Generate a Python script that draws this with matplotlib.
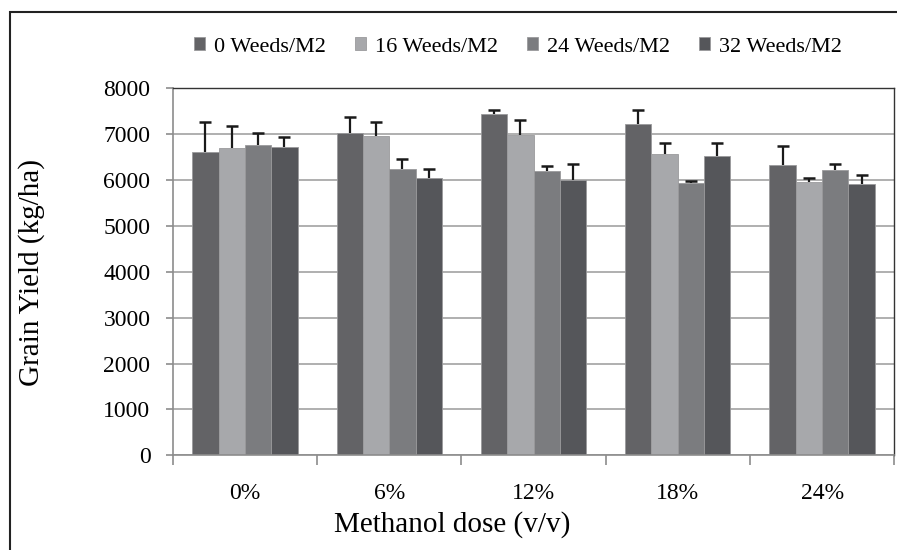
import numpy as np
import matplotlib
matplotlib.use("Agg")
import matplotlib.pyplot as plt
from matplotlib.patches import Rectangle

doses = ["0%", "6%", "12%", "18%", "24%"]
series = ["0 Weeds/M2", "16 Weeds/M2", "24 Weeds/M2", "32 Weeds/M2"]

weeds_0 = [6610, 7030, 7450, 7225, 6320]
weeds_16 = [6690, 6960, 6980, 6565, 5960]
weeds_24 = [6760, 6245, 6200, 5925, 6215]
weeds_32 = [6710, 6035, 6000, 6515, 5905]

err_0 = [650, 350, 70, 300, 425]
err_16 = [490, 300, 330, 235, 95]
err_24 = [255, 205, 100, 55, 135]
err_32 = [225, 195, 355, 285, 195]

colors = ["#636366", "#a7a8ab", "#7b7c7f", "#55565a"]

plt.rcParams["font.family"] = ["Liberation Serif", "DejaVu Serif"]

fig = plt.figure(figsize=(8.97, 5.5), dpi=100)
ax = fig.add_axes([172.7 / 897, 1 - 455.3 / 550, 721.6 / 897, 367 / 550])

x = np.arange(len(doses))
group_w = 0.73
bw = group_w / len(series)
values = [weeds_0, weeds_16, weeds_24, weeds_32]
errors = [err_0, err_16, err_24, err_32]

for i, (vals, errs) in enumerate(zip(values, errors)):
    pos = x - group_w / 2 + bw * (i + 0.5)
    ax.bar(pos, vals, width=bw, color=colors[i], edgecolor="#9a9a9c",
           linewidth=0.6, label=series[i], zorder=2)
    eb = ax.errorbar(pos, vals, yerr=[np.zeros(len(errs)), errs], fmt="none",
                     ecolor="#1a1a1a", elinewidth=1.6, capsize=4.3,
                     capthick=1.8, zorder=3)
    # upper bars only: hide the cap sitting on the bar top
    eb[1][0].set_visible(False)

ax.set_ylim(0, 8000)
ax.set_xlim(-0.5, len(doses) - 0.5)
ax.set_yticks(np.arange(0, 8001, 1000))
ax.yaxis.grid(True, color="#9a9a9a", linewidth=1.1, zorder=0)
ax.set_axisbelow(True)

ax.set_xticks(np.arange(-0.5, len(doses), 1.0))
ax.set_xticklabels([])
ax.set_xticks(x, minor=True)
ax.set_xticklabels(doses, minor=True)
ax.tick_params(axis="x", which="major", length=7, width=1.2, color="#8c8c8c")
ax.tick_params(axis="x", which="minor", length=0, pad=20, labelsize=17)
ax.tick_params(axis="y", length=5, width=1.2, color="#8c8c8c", labelsize=17,
               pad=11)

for s in ["left", "bottom"]:
    ax.spines[s].set_color("#8c8c8c")
    ax.spines[s].set_linewidth(1.2)
for s in ["top", "right"]:
    ax.spines[s].set_color("#333333")
    ax.spines[s].set_linewidth(1.0)

fig.text(452 / 897, 1 - 525 / 550, "Methanol dose (v/v)", ha="center",
         va="center", fontsize=21)
fig.text(32 / 897, 1 - 272 / 550, "Grain Yield (kg/ha)", ha="center",
         va="center", rotation=90, fontsize=21)

fig.legend(loc="center", bbox_to_anchor=(518 / 897, 1 - 47 / 550), ncol=4,
           frameon=False, fontsize=16, handlelength=0.5, handleheight=0.5,
           handletextpad=0.4, columnspacing=1.3)

fig.patches.append(Rectangle((10 / 897, -0.1), 1.2, 1.1 - 12.5 / 550,
                             transform=fig.transFigure, fill=False,
                             edgecolor="#222222", linewidth=1.5))

fig.savefig("out.png", dpi=100)
